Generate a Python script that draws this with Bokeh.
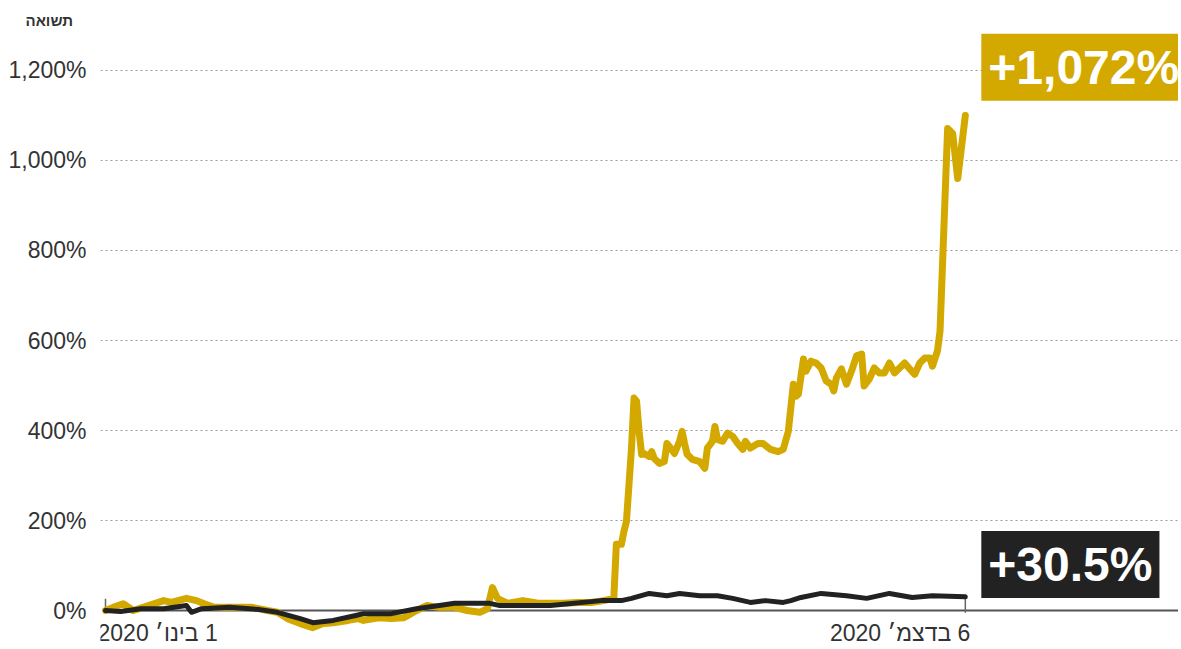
from bokeh.plotting import figure
from bokeh.models import FixedTicker, Range1d, Label
from bokeh.core.properties import value
from bokeh.embed import file_html
from bokeh.resources import INLINE

# ---- data (days since 1 Jan 2020, return in %) ----
gold_days = [0, 3, 7, 11, 17, 23, 26, 32, 36, 39, 43, 48, 53, 58, 64, 68, 72, 77, 82, 86,
             90, 96, 100, 102, 108, 113, 118, 123, 127, 132, 138, 143, 148, 151, 153, 155,
             159, 161, 165, 171, 176, 181, 187, 192, 197, 201, 202, 204, 205, 206, 208, 209,
             210, 211, 212, 213, 215, 216, 217, 219, 221, 222, 223, 225, 227, 228, 229, 230,
             232, 235, 237, 238, 240, 241, 242, 244, 246, 248, 250, 252, 253, 255, 258, 260,
             263, 266, 268, 270, 272, 273, 274, 276, 277, 279, 281, 283, 285, 287, 288, 289,
             291, 293, 295, 297, 299, 300, 302, 304, 306, 308, 310, 312, 314, 316, 318, 320,
             322, 324, 326, 327, 329, 330, 333, 335, 337, 340]
gold_vals = [0, 7, 15, 0, 11, 22, 18, 27, 22, 15, 7, 7, 7, 7, 0, -4, -18, -29, -38, -29,
             -27, -22, -18, -22, -16, -18, -16, 0, 11, 7, 7, 0, -4, 4, 51, 27,
             16, 18, 22, 16, 16, 16, 18, 18, 22, 27, 147, 147, 176, 198, 361, 472,
             465, 398, 347, 349, 342, 353, 338, 327, 331, 371, 364, 349, 376, 398, 371, 347,
             336, 331, 316, 361, 376, 409, 380, 376, 394, 387, 371, 358, 376, 361, 371, 371,
             358, 353, 358, 398, 503, 476, 481, 559, 532, 554, 550, 539, 510, 503, 488, 517,
             537, 503, 532, 566, 570, 499, 514, 539, 528, 528, 550, 528, 539, 550, 537, 525,
             550, 561, 561, 543, 577, 621, 1071, 1060, 960, 1100]

black_days = [0, 6, 14, 23, 32, 34, 38, 49, 61, 68, 77, 82, 90, 99, 102, 113, 123, 132,
              138, 148, 152, 156, 176, 196, 201, 204, 208, 215, 222, 227, 235, 242, 248,
              255, 261, 268, 271, 275, 283, 293, 301, 310, 319, 327, 340]
black_vals = [0, -2, 4, 4, 11, -4, 4, 7, 2, -4, -18, -27, -22, -11, -7, -7, 4, 11,
              16, 16, 16, 11, 11, 22, 22, 22, 27, 38, 33, 38, 33, 33, 27,
              18, 22, 18, 22, 29, 38, 33, 27, 38, 29, 33, 30.5]

y_ticks = [0, 200, 400, 600, 800, 1000, 1200]
y_tick_labels = ["0%", "200%", "400%", "600%", "800%", "1,000%", "1,200%"]
x_tick_days = [0, 340]
x_tick_labels = ["\u202B1 בינו׳ 2020\u202C", "\u202B6 בדצמ׳ 2020\u202C"]
gold_label = "+1,072%"
black_label = "+30.5%"
title_text = "תשואה"

GOLD = "#D3A900"
BLACK = "#222222"
FONT = "Liberation Sans"

p = figure(width=1178, height=648, output_backend="svg", toolbar_location=None,
           x_range=Range1d(-1.98, 424.3), y_range=Range1d(-84.4, 1293.3),
           x_axis_location=None, y_axis_location="left",
           min_border_left=100, min_border_right=0, min_border_top=28, min_border_bottom=0)
p.outline_line_color = None
p.background_fill_color = "white"

# title
p.title.text = title_text
p.title.align = "left"
p.title.offset = -75
p.title.standoff = 0
p.title.text_font = FONT
p.title.text_font_size = "15px"
p.title.text_font_style = "bold"
p.title.text_color = "#333333"

# y axis
ax = p.yaxis[0]
ax.ticker = FixedTicker(ticks=y_ticks)
ax.major_label_overrides = {t: l for t, l in zip(y_ticks, y_tick_labels)}
ax.axis_line_color = None
ax.major_tick_line_color = None
ax.minor_tick_line_color = None
ax.major_label_standoff = 8
ax.major_label_text_font = FONT
ax.major_label_text_font_size = "23px"
ax.major_label_text_color = "#333333"

# grid
p.xgrid.visible = False
p.ygrid.ticker = FixedTicker(ticks=y_ticks[1:])
p.ygrid.grid_line_color = "#9a9a9a"
p.ygrid.grid_line_dash = "2 3"
p.ygrid.grid_line_width = 1

# baseline and date ticks
p.segment(x0=[gold_days[0]], y0=[0], x1=[p.x_range.end], y1=[0],
          line_color="#555555", line_width=2)
p.segment(x0=x_tick_days, y0=[-5] * len(x_tick_days), x1=x_tick_days, y1=[26] * len(x_tick_days),
          line_color="#666666", line_width=1.5)

# lines
p.line(gold_days, gold_vals, line_color=GOLD, line_width=7, line_join="round", line_cap="round")
p.line(black_days, black_vals, line_color=BLACK, line_width=5, line_join="round", line_cap="round")

# x tick labels
p.text(x=[x_tick_days[0]], y=[0], text=[x_tick_labels[0]], x_offset=-8, y_offset=22,
       text_align="left", text_baseline="middle", text_font=value(FONT),
       text_font_size="23px", text_color="#333333")
p.text(x=[x_tick_days[1]], y=[0], text=[x_tick_labels[1]], x_offset=5, y_offset=22,
       text_align="right", text_baseline="middle", text_font=value(FONT),
       text_font_size="23px", text_color="#333333")

# end labels
p.add_layout(Label(x=gold_days[-1], y=1207, x_offset=16, text=gold_label,
                   text_align="left", text_baseline="middle", text_font=FONT,
                   text_font_size="48px", text_font_style="bold", text_color="white",
                   background_fill_color=GOLD, padding=7))
p.add_layout(Label(x=black_days[-1], y=102, x_offset=16, text=black_label,
                   text_align="left", text_baseline="middle", text_font=FONT,
                   text_font_size="48px", text_font_style="bold", text_color="white",
                   background_fill_color=BLACK, padding=7))

open("out.html", "w").write(file_html(p, INLINE))
